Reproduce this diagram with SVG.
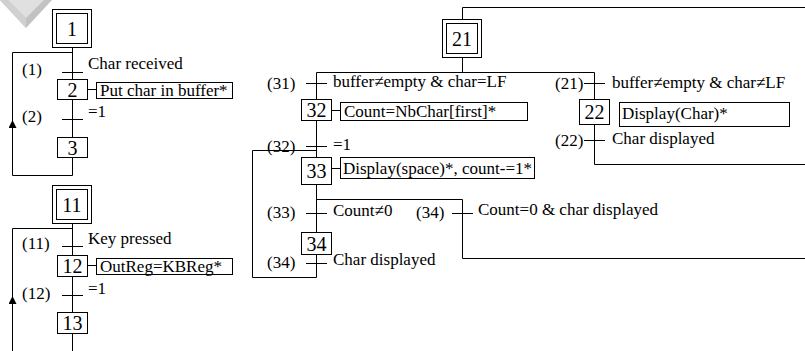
<svg xmlns="http://www.w3.org/2000/svg" width="805" height="351" viewBox="0 0 805 351" font-family="Liberation Serif, DejaVu Serif, serif">
<style>
  .ln{fill:none;stroke:#000;stroke-width:1}
  .bx{fill:#fff;stroke:#000;stroke-width:1}
  .ab{fill:#fff;stroke:#000;stroke-width:1}
  .sn{font-family:'Liberation Serif','DejaVu Serif',serif;font-size:20px;fill:#000;text-anchor:middle}
  .tx{font-family:'Liberation Serif','DejaVu Serif',serif;font-size:17px;fill:#000}
</style>
<defs>
  <marker id="arr" viewBox="0 0 10 10" refX="10" refY="5" markerWidth="9" markerHeight="8" markerUnits="userSpaceOnUse" orient="auto">
    <path d="M0,0 L10,5 L0,10 z" fill="#000"/>
  </marker>
</defs>
<rect width="805" height="351" fill="#fff"/>
<g id="watermark">
  <polygon points="0,0 52,0 26,28" fill="#c2c2c2"/>
  <polygon points="0,0 8,0 26,18 26,28" fill="#d0d0d0"/>
  <polygon points="8,0 44,0 26,18" fill="#e0e0e0"/>
</g>
<g id="connectors">
  <path class="ln" d="M72.5,47.5 V137.5"/>
  <path class="ln" d="M72.5,157.5 V175.5 H12.5 V120" marker-end="url(#arr)"/>
  <path class="ln" d="M12.5,122 V52.5 H72.5"/>
  <path class="ln" d="M62,72.5 H83 M62,119.5 H83"/>
  <path class="ln" d="M87.5,89.5 H96.5"/>
  <path class="ln" d="M72.5,223.5 V351"/>
  <path class="ln" d="M12.5,351 V296" marker-end="url(#arr)"/>
  <path class="ln" d="M12.5,298 V228.5 H72.5"/>
  <path class="ln" d="M62,246.5 H83 M62,295.5 H83"/>
  <path class="ln" d="M87.5,265.5 H96.5"/>
  <path class="ln" d="M462.5,19.5 V7.5 H805"/>
  <path class="ln" d="M462.5,57.5 V72.5 M316.5,72.5 H594.5"/>
  <path class="ln" d="M316.5,72.5 V277.5 H252.5 V150.5 H316.5"/>
  <path class="ln" d="M316.5,199.5 H462.5 V258.5 H805"/>
  <path class="ln" d="M594.5,72.5 V164.5 H805"/>
  <path class="ln" d="M306,83.5 H327 M306,146.5 H327 M306,213.5 H327 M306,263.5 H327"/>
  <path class="ln" d="M452,213.5 H473"/>
  <path class="ln" d="M584,83.5 H605 M584,140.5 H605"/>
  <path class="ln" d="M331.5,110.5 H340.5 M331.5,168.5 H340.5"/>
</g>
<g id="step1">
  <rect class="bx" x="52.5" y="9.5" width="39" height="38"/>
  <rect class="bx" x="56.5" y="13.5" width="31" height="30"/>
  <text class="sn" x="72" y="35.5">1</text>
</g>
<g id="t1">
  <text class="tx" x="22" y="75">(1)</text>
  <text class="tx" x="88" y="69">Char received</text>
</g>
<g id="step2">
  <rect class="bx" x="57.5" y="79.5" width="30" height="20"/>
  <text class="sn" x="72.5" y="96.5">2</text>
  <rect class="ab" x="96.5" y="82.5" width="136" height="16"/>
  <text class="tx" x="100" y="95.5">Put char in buffer*</text>
</g>
<g id="t2">
  <text class="tx" x="22" y="122">(2)</text>
  <text class="tx" x="88" y="117">=1</text>
</g>
<g id="step3">
  <rect class="bx" x="57.5" y="137.5" width="30" height="20"/>
  <text class="sn" x="72.5" y="154.5">3</text>
</g>
<g id="step11">
  <rect class="bx" x="52.5" y="185.5" width="39" height="38"/>
  <rect class="bx" x="56.5" y="189.5" width="31" height="30"/>
  <text class="sn" x="72" y="211.5">11</text>
</g>
<g id="t11">
  <text class="tx" x="22" y="249">(11)</text>
  <text class="tx" x="88" y="244">Key pressed</text>
</g>
<g id="step12">
  <rect class="bx" x="57.5" y="255.5" width="30" height="21"/>
  <text class="sn" x="72.5" y="273">12</text>
  <rect class="ab" x="96.5" y="258.5" width="136" height="16"/>
  <text class="tx" x="100" y="271.5">OutReg=KBReg*</text>
</g>
<g id="t12">
  <text class="tx" x="22" y="299">(12)</text>
  <text class="tx" x="88" y="294">=1</text>
</g>
<g id="step13">
  <rect class="bx" x="57.5" y="312.5" width="30" height="21"/>
  <text class="sn" x="72.5" y="330">13</text>
</g>
<g id="step21">
  <rect class="bx" x="442.5" y="19.5" width="39" height="38"/>
  <rect class="bx" x="446.5" y="23.5" width="31" height="30"/>
  <text class="sn" x="462" y="45.5">21</text>
</g>
<g id="t31">
  <text class="tx" x="267" y="89">(31)</text>
  <text class="tx" x="333" y="87">buffer≠empty &amp; char=LF</text>
</g>
<g id="step32">
  <rect class="bx" x="301.5" y="99.5" width="30" height="21"/>
  <text class="sn" x="316.5" y="117">32</text>
  <rect class="ab" x="340.5" y="102.5" width="187" height="18"/>
  <text class="tx" x="344" y="116.5">Count=NbChar[first]*</text>
</g>
<g id="t32">
  <text class="tx" x="267" y="152">(32)</text>
  <text class="tx" x="333" y="150">=1</text>
</g>
<g id="step33">
  <rect class="bx" x="301.5" y="157.5" width="30" height="27"/>
  <text class="sn" x="316.5" y="178">33</text>
  <rect class="ab" x="340.5" y="157.5" width="194" height="21"/>
  <text class="tx" x="343" y="174">Display(space)*, count-=1*</text>
</g>
<g id="t33">
  <text class="tx" x="267" y="218">(33)</text>
  <text class="tx" x="333" y="216">Count≠0</text>
</g>
<g id="step34">
  <rect class="bx" x="301.5" y="232.5" width="30" height="22"/>
  <text class="sn" x="316.5" y="250.5">34</text>
</g>
<g id="t34a">
  <text class="tx" x="267" y="268">(34)</text>
  <text class="tx" x="333" y="265">Char displayed</text>
</g>
<g id="t34b">
  <text class="tx" x="416" y="218">(34)</text>
  <text class="tx" x="478" y="215">Count=0 &amp; char displayed</text>
</g>
<g id="t21">
  <text class="tx" x="555" y="89">(21)</text>
  <text class="tx" x="612" y="88">buffer≠empty &amp; char≠LF</text>
</g>
<g id="step22">
  <rect class="bx" x="579.5" y="99.5" width="30" height="25"/>
  <text class="sn" x="594.5" y="119">22</text>
  <rect class="ab" x="619.5" y="102.5" width="170" height="24"/>
  <text class="tx" x="622" y="119">Display(Char)*</text>
</g>
<g id="t22">
  <text class="tx" x="555" y="146">(22)</text>
  <text class="tx" x="612" y="144">Char displayed</text>
</g>
</svg>
